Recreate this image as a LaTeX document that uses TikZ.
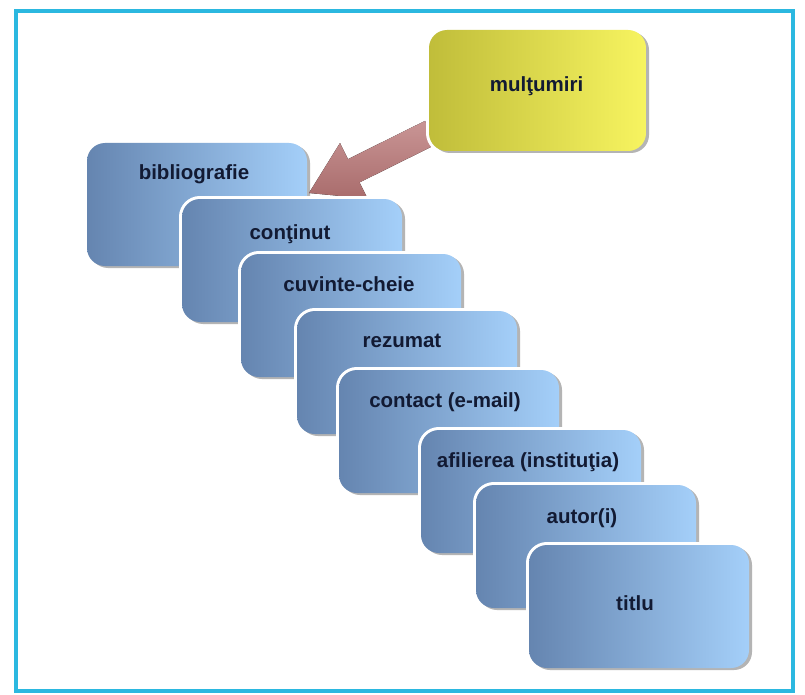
\documentclass[tikz,border=0pt]{standalone}
\usepackage{fontspec}
\setmainfont{Liberation Sans}
\usetikzlibrary{calc}
\definecolor{frameC}{HTML}{2BB8E0}
\definecolor{cardL}{HTML}{6585B0}
\definecolor{cardR}{HTML}{A4CFF9}
\definecolor{txtC}{HTML}{121A33}
\definecolor{yelL}{HTML}{C0BD3A}
\definecolor{yelR}{HTML}{F7F460}
\definecolor{arrC}{HTML}{A96C6C}
\definecolor{arrL}{HTML}{C99595}
\definecolor{shad}{HTML}{A8A8A8}
\begin{document}
\begin{tikzpicture}[x=1pt,y=-1pt,
  box/.style={rounded corners=18pt, inner sep=0pt, minimum width=220pt, minimum height=123pt,
    preaction={draw=white, line width=6pt},
    preaction={fill=shad, opacity=0.85, transform canvas={xshift=3pt,yshift=-2pt}}},
  card/.style={box, left color=cardL, right color=cardR},
  ylw/.style={box, minimum width=217pt, minimum height=121pt, left color=yelL, right color=yelR},
  lbl/.style={font=\bfseries\fontsize{20.5}{24}\selectfont, text=txtC, inner sep=0pt,
    text height=14pt, text depth=4pt, anchor=center}
]
\useasboundingbox (0,0) rectangle (805,695);
\fill[white] (0,0) rectangle (805,695);
\draw[frameC, line width=4pt] (15.5,11) rectangle (793,691);

% card 1
\node[card] (c1) at (197,204.5) {};
\node[lbl] (t1) at ($(c1.north)+(-3,32)$) {bibliografie};

% arrow
\coordinate (tip) at (309,193);
\begin{scope}[shift={(tip)}, rotate=206.4]
  \fill[top color=arrL, bottom color=arrC] (0,0) -- (-50,31) -- (-50,13) -- (-136,13)
    -- (-136,-13) -- (-50,-13) -- (-50,-31) -- cycle;
\end{scope}

% other cards
\node[card] (c2) at (292,260.5) {};
\node[lbl] (t2) at ($(c2.north)+(-2,36)$) {conţinut};
\node[card] (c3) at (351,315.5) {};
\node[lbl] (t3) at ($(c3.north)+(-2,33)$) {cuvinte-cheie};
\node[card] (c4) at (407,372.5) {};
\node[lbl] (t4) at ($(c4.north)+(-5,32)$) {rezumat};
\node[card] (c5) at (449,431.5) {};
\node[lbl] (t5) at ($(c5.north)+(-4,33)$) {contact (e-mail)};
\node[card] (c6) at (531,491.5) {};
\node[lbl] (t6) at ($(c6.north)+(-3,33)$) {afilierea (instituţia)};
\node[card] (c7) at (586,546.5) {};
\node[lbl] (t7) at ($(c7.north)+(-4,34)$) {autor(i)};
\node[card] (c8) at (639,606.5) {};
\node[lbl] (t8) at ($(c8.center)+(-4,-1)$) {titlu};

% yellow box
\node[ylw] (m) at (537.5,90.5) {};
\node[lbl] (tm) at ($(m.center)+(-1,-4)$) {mulţumiri};
\end{tikzpicture}
\end{document}
